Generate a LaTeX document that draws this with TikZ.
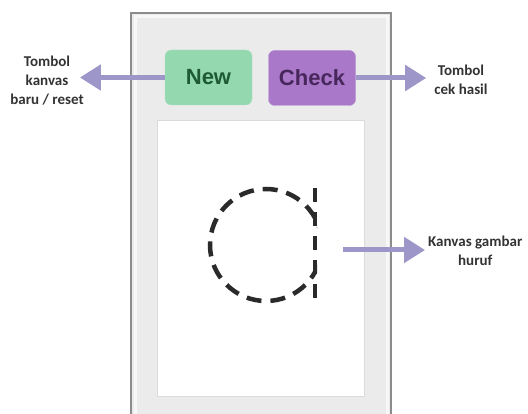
\documentclass[tikz,border=0pt]{standalone}
\usepackage{fontspec}
\setmainfont{Carlito}
\newfontfamily\btnfont{Liberation Sans}
\usetikzlibrary{arrows.meta}
\definecolor{framegray}{HTML}{8C8C8C}
\definecolor{panelgray}{HTML}{EBEBEB}
\definecolor{newfill}{HTML}{93D8AF}
\definecolor{newtext}{HTML}{1E5A36}
\definecolor{checkfill}{HTML}{A978C8}
\definecolor{checktext}{HTML}{47275C}
\definecolor{arrowcol}{HTML}{9D96C8}
\definecolor{labeltext}{HTML}{333333}
\definecolor{inkdash}{HTML}{2A2A2A}
\tikzset{
  btn/.style={rounded corners=6pt, minimum width=87pt, minimum height=55pt,
    inner sep=0pt, font=\btnfont\bfseries\fontsize{22}{24}\selectfont},
  callout/.style={align=center, inner sep=0pt, text=labeltext,
    font=\bfseries\fontsize{15}{19}\selectfont},
  pointer/.style={draw=arrowcol, line width=5pt,
    -{Triangle[length=21pt,width=25pt]}},
  tracedash/.style={draw=inkdash, line width=4.5pt}
}
\begin{document}
\begin{tikzpicture}[x=1pt,y=-1pt]
\useasboundingbox (0,0) rectangle (528,414);
% device frame
\fill[white] (0,0) rectangle (528,414);
\draw[framegray, line width=1.5pt, fill=panelgray] (131,13) rectangle (391,430);
\draw[white!60!panelgray, line width=3pt] (135,17) rectangle (387,426);
% drawing canvas
\node[draw=black!14, line width=1pt, fill=white, minimum width=207pt,
  minimum height=276pt, inner sep=0pt, anchor=north west] (canvas) at (157,120) {};
% buttons
\node[btn, fill=newfill, draw=newfill!70!white, text=newtext] (new) at (208.5,77.5) {New};
\node[btn, fill=checkfill, draw=checkfill!80!white, text=checktext] (check) at (312,78) {Check};
% traced letter "a": bowl stops at the stem
\begin{scope}
  \clip (150,150) rectangle (317,330);
  \draw[tracedash, dash pattern=on 15pt off 9pt, dash phase=3.5pt] (266,245) circle (56);
\end{scope}
\draw[tracedash, dash pattern=on 14pt off 10pt] (315,188) -- (315,302);
% callout labels
\node[callout] (lblnew) at (47,81) {Tombol\\kanvas\\baru / reset};
\node[callout] (lblcheck) at (461,80) {Tombol\\cek hasil};
\node[callout, anchor=west] (lblcanvas) at (428,251) {Kanvas gambar\\huruf};
\coordinate (canvasout) at (343,250);
% pointers
\draw[pointer, shorten >=-4pt] (new.west) -- (lblnew.east |- new.west);
\draw[pointer, shorten >=8pt] (check.east) -- (lblcheck.west |- check.east);
\draw[pointer, shorten >=3pt] (canvasout) -- (lblcanvas.west |- canvasout);
\end{tikzpicture}
\end{document}
